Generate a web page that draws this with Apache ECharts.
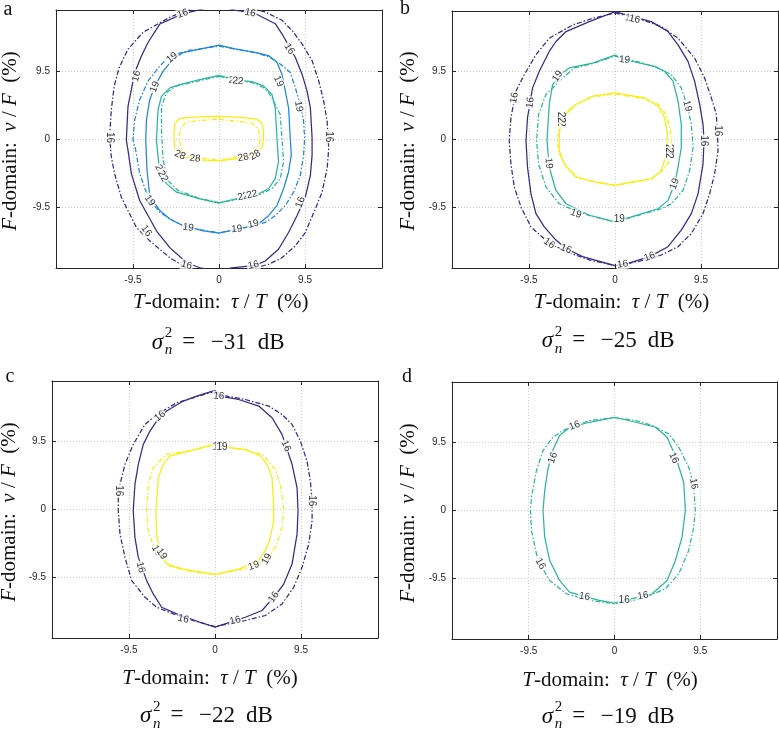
<!DOCTYPE html>
<html><head><meta charset="utf-8">
<script src="https://cdn.jsdelivr.net/npm/echarts@6/dist/echarts.min.js"></script>
<style>html,body{margin:0;padding:0;background:#fff}#c{width:779px;height:732px}</style>
</head><body><div id="c"></div>
<script>
// ---------- tick labels / captions ----------
const tickValues = [-9.5, 0, 9.5];
const noiseLevels = ['\u221231', '\u221225', '\u221222', '\u221219'];
const panelLetters = ['a', 'b', 'c', 'd'];

// ---------- panel a (sigma^2 = -31 dB) : contour levels 16,19,22,28 ----------
const aS16 = [[0,18.6],[1.77,17.97],[3.99,17.52],[6.21,16.09],[6.95,14.68],[8.42,11.4],[9.17,9.05],[9.72,6.71],[10.09,4.36],[10.28,0.14],[10.28,-2.25],[10.09,-5.07],[9.53,-8.12],[8.61,-10.7],[7.68,-13.05],[6.57,-15.39],[5.1,-17.03],[3.99,-17.64],[1.41,-17.97],[0,-18.4],[-2.11,-17.97],[-3.58,-17.27],[-5.43,-15.16],[-6.91,-12.81],[-8.76,-8.58],[-9.68,-4.83],[-10.05,-1.55],[-10.23,-0.14],[-10.05,4.55],[-9.68,6.9],[-9.31,9.25],[-8.57,11.58],[-7.84,13.47],[-6.54,16.04],[-4.02,17.45],[-1.74,18.16],[0,18.6]];
const aD16 = [[0,19.0],[3.44,18.3],[5.1,17.73],[6.95,16.57],[8.06,15.16],[9.17,13.27],[10.28,10.94],[11.01,8.12],[11.56,5.31],[11.94,2.49],[12.12,-1.31],[11.94,-4.12],[11.38,-7.42],[10.64,-9.75],[9.53,-13.05],[8.42,-14.92],[6.95,-16.57],[5.47,-17.49],[3.99,-17.97],[2.33,-18.7],[0,-19.0],[-2.1,-18.7],[-3.58,-17.97],[-5.43,-16.57],[-7.65,-14.21],[-9.12,-12.34],[-10.79,-8.12],[-11.53,-4.83],[-11.89,-2.49],[-12.08,0.32],[-11.89,4.08],[-11.58,7.36],[-11.03,9.95],[-10.05,12.53],[-8.39,14.88],[-5.43,16.99],[-2.66,18.44],[0,19.0]];
const aS19 = [[0,13.09],[1.77,12.57],[3.99,12.1],[5.47,11.64],[6.4,10.7],[6.95,9.05],[7.32,6.71],[7.68,4.36],[7.87,0.14],[7.98,-2.25],[7.68,-4.6],[7.13,-6.94],[6.4,-9.29],[5.47,-10.7],[4.36,-11.86],[2.52,-12.48],[0,-13.13],[-1.74,-12.81],[-3.96,-12.1],[-5.43,-11.16],[-6.54,-9.99],[-7.65,-7.88],[-7.95,-4.36],[-8.09,-0.14],[-8.01,2.67],[-7.65,5.49],[-7.09,7.36],[-6.17,9.47],[-5.07,11.12],[-3.96,12.06],[-2.11,12.53],[0,13.09]];
const aD19 = [[0,12.95],[3.99,12.03],[5.47,11.5],[6.76,10.46],[7.87,9.29],[8.42,7.18],[8.98,4.83],[9.34,2.49],[9.46,0.14],[9.34,-2.25],[8.98,-5.07],[8.24,-7.42],[7.32,-9.29],[6.21,-10.7],[5.1,-11.64],[3.44,-12.24],[0,-13.09],[-3.58,-12.34],[-5.07,-11.4],[-6.54,-10.23],[-7.84,-8.12],[-8.76,-4.83],[-9.2,-1.55],[-9.5,-0.14],[-9.31,2.67],[-8.76,5.49],[-7.84,8.06],[-6.54,10.18],[-5.43,11.58],[-3.21,12.39],[0,12.95]];
const aS22 = [[0,8.87],[1.96,8.23],[3.62,8.02],[4.91,7.42],[5.84,6.23],[6.21,4.36],[6.4,0.14],[6.57,-3.19],[6.21,-5.53],[5.47,-6.94],[4.36,-7.64],[3.25,-8.02],[1.03,-8.59],[0,-8.94],[-2.11,-8.35],[-4.69,-7.42],[-5.8,-6.23],[-6.54,-4.36],[-6.73,-2.49],[-6.91,-0.14],[-6.73,4.08],[-6.35,5.95],[-5.43,7.14],[-4.32,7.6],[-2.11,8.3],[0,8.87]];
const aD22 = [[0,8.73],[3.62,7.88],[4.91,7.18],[5.47,6.47],[6.02,5.31],[6.76,3.42],[6.95,0.14],[7.13,-3.19],[6.76,-5.53],[5.84,-6.94],[4.36,-7.81],[1.03,-8.66],[0,-8.87],[-2.11,-8.3],[-4.55,-7.18],[-5.65,-5.77],[-6.17,-2.96],[-6.35,1.27],[-6.35,4.55],[-5.8,6.43],[-4.88,7.32],[-2.11,8.16],[0,8.73]];
const aS28 = [[0,3.14],[2.33,3.03],[4.18,2.77],[4.73,2.25],[4.91,1.27],[4.91,-0.14],[4.77,-1.13],[3.99,-2.01],[2.88,-2.6],[0,-3.05],[-2.11,-2.91],[-3.77,-2.53],[-4.55,-2.04],[-4.88,-1.13],[-4.99,0.56],[-4.88,2.11],[-4.32,2.89],[-2.11,3.1],[0,3.14]];
const aD28 = [[0,2.74],[3.62,2.25],[4.36,1.31],[4.55,0.14],[4.43,-0.99],[3.44,-2.11],[0,-2.96],[-3.21,-2.53],[-4.1,-1.55],[-4.43,0.14],[-4.21,1.55],[-3.66,2.32],[-2.11,2.6],[0,2.74]];
const aLabels = [[-4.02,17.5,'16',18],[3.44,17.6,'16',-12],[7.76,12.57,'16',-58],[-12.08,0.2,'16',-90],[-9.12,8.77,'16',75],[12.12,0.32,'16',-90],[8.98,-8.82,'16',70],[-8.01,-12.81,'16',-55],[-3.58,-17.6,'16',-15],[3.8,-17.6,'16',12],
  [-5.18,11.36,'19',40],[-7.09,7.28,'19',70],[6.57,8.06,'19',-65],[8.79,4.55,'19',-80],[-7.65,-8.58,'19',-55],[-3.4,-12.34,'19',-8],[1.96,-12.57,'19',5],[3.8,-11.86,'19',15],
  [1.7,8.15,'22',-5],[2.1,8.1,'22',-5],[2.66,-8.02,'22',15],[3.66,-7.74,'22',15],[-6.54,-4.36,'22',-65],[-6.2,-5.2,'22',-60],
  [-4.32,-2.25,'28',-25],[-2.66,-2.72,'28',-5],[2.69,-2.58,'28',10],[3.99,-2.25,'28',30]];

// ---------- panel b (sigma^2 = -25 dB) : levels 16,19,22 ----------
const bS16 = [[0,17.9],[1.8,17.25],[4.01,16.51],[5.85,15.12],[6.96,13.26],[8.06,10.95],[8.79,8.17],[9.35,4.91],[9.72,2.13],[9.83,-0.18],[9.72,-3.44],[9.17,-7.61],[8.43,-10.39],[7.32,-12.7],[5.85,-15.02],[3.82,-16.41],[1.44,-17.35],[0,-17.67],[-3.58,-16.41],[-5.41,-15.26],[-6.52,-14.09],[-7.81,-12.24],[-8.73,-10.39],[-9.28,-7.61],[-9.66,-3.89],[-9.83,-0.18],[-9.66,3.06],[-9.1,7.23],[-8.36,9.56],[-7.26,12.34],[-6.52,13.73],[-5.41,15.12],[-2.84,16.51],[0,17.9]];
const bD16 = [[0,17.74],[2.54,16.97],[5.11,15.82],[6.96,14.19],[8.79,11.41],[9.9,8.62],[10.64,5.84],[11.19,3.52],[11.3,1.21],[11.38,-1.57],[11.0,-4.83],[10.45,-7.61],[9.72,-10.39],[8.43,-13.17],[6.96,-15.02],[5.11,-16.18],[2.54,-17.11],[0,-17.67],[-2.84,-16.87],[-5.0,-15.9],[-7.26,-14.56],[-9.28,-12.24],[-10.38,-9.46],[-11.12,-6.68],[-11.49,-3.44],[-11.68,-0.18],[-11.49,3.06],[-10.94,6.77],[-10.02,9.08],[-8.73,11.87],[-7.26,14.19],[-4.68,16.04],[-2.47,16.97],[0,17.74]];
const bS19 = [[0,11.82],[1.06,11.17],[4.37,10.25],[5.48,9.56],[6.41,8.17],[6.96,5.38],[7.32,2.13],[7.32,-1.11],[6.96,-3.89],[6.58,-6.22],[5.85,-8.53],[4.75,-9.7],[1.8,-10.85],[0,-11.55],[-2.84,-10.61],[-5.41,-9.0],[-6.52,-7.14],[-7.26,-3.89],[-7.51,-0.18],[-7.26,4.91],[-6.89,7.69],[-5.79,9.32],[-5.05,10.02],[-2.47,10.71],[0,11.82]];
const bD19 = [[0,11.68],[2.68,10.85],[4.75,10.02],[6.22,9.08],[7.32,7.23],[7.99,4.69],[8.43,2.13],[8.62,-1.11],[8.24,-4.35],[7.51,-7.14],[6.22,-9.0],[5.11,-9.7],[1.8,-10.92],[0,-11.55],[-2.84,-10.64],[-4.31,-10.02],[-6.15,-9.0],[-7.62,-6.68],[-8.44,-3.44],[-8.66,-0.18],[-8.44,3.52],[-7.62,6.3],[-5.97,8.39],[-4.5,10.02],[-2.47,10.64],[0,11.68]];
const bS22 = [[0,6.54],[3.27,5.84],[4.75,4.69],[5.48,3.06],[5.78,0.74],[5.67,-2.04],[5.11,-4.35],[4.01,-5.52],[1.8,-5.98],[0,-6.44],[-2.1,-5.98],[-4.31,-5.29],[-5.6,-3.44],[-6.15,-1.57],[-6.15,0.74],[-5.97,2.82],[-5.24,3.76],[-4.31,4.91],[-2.47,6.08],[0,6.54]];
const bD22 = [[0,6.4],[3.27,5.7],[4.75,4.91],[5.67,3.52],[6.14,1.21],[6.22,-1.11],[6.03,-2.96],[5.23,-4.31],[4.01,-5.56],[0,-6.4],[-2.1,-5.98],[-4.17,-5.29],[-5.49,-3.62],[-6.26,-1.67],[-6.34,-0.18],[-6.15,2.09],[-5.6,3.76],[-4.17,5.01],[-2.47,5.98],[0,6.4]];
const bLabels = [[1.75,16.95,'16',-12],[2.15,16.85,'16',-12],[-11.12,5.84,'16',80],[-9.36,5.15,'16',82],[-7.26,-14.56,'16',-35],[-5.41,-15.34,'16',-22],[0.84,-17.48,'16',8],[3.82,-16.41,'16',20],[9.83,-0.18,'16',-90],[11.3,1.21,'16',-90],
  [1.06,11.17,'19',-5],[-6.34,8.86,'19',55],[-7.33,-3.34,'19',-85],[-4.31,-10.39,'19',-20],[0.47,-11.22,'19',0],[7.99,4.69,'19',-75],[6.58,-6.22,'19',70],
  [-5.97,2.6,'22',-90],[-5.97,3.1,'22',-90],[5.92,-1.4,'22',-90],[5.92,-1.9,'22',-90]];

// ---------- panel c (sigma^2 = -22 dB) : levels 16,19 ----------
const cS16 = [[0,16.69],[0.41,15.88],[2.62,15.41],[4.83,14.49],[6.3,12.85],[7.4,10.52],[8.51,6.33],[9.06,3.07],[9.17,-0.18],[9.06,-3.45],[8.51,-7.64],[7.59,-10.44],[6.48,-12.3],[5.19,-14.15],[3.35,-15.09],[0,-16.48],[-1.66,-15.79],[-4.23,-14.63],[-5.89,-13.69],[-6.82,-11.83],[-7.55,-9.96],[-8.47,-6.71],[-8.84,-3.91],[-9.03,-0.18],[-8.84,3.53],[-8.47,6.33],[-7.92,9.12],[-7.18,10.99],[-6.44,12.39],[-5.34,13.79],[-3.5,15.19],[-2.02,15.88],[0,16.69]];
const cD16 = [[0,16.55],[1.1,15.93],[3.35,15.41],[5.93,14.49],[7.4,13.31],[8.51,11.92],[9.42,9.6],[10.16,6.8],[10.53,4.01],[10.72,1.22],[10.72,-1.58],[10.35,-4.85],[9.61,-8.1],[8.69,-10.9],[7.4,-13.23],[5.56,-14.85],[3.35,-15.55],[0,-16.41],[-2.4,-15.55],[-4.61,-14.63],[-6.44,-13.69],[-7.73,-12.29],[-9.2,-9.96],[-9.94,-6.71],[-10.49,-3.45],[-10.68,-0.18],[-10.68,2.61],[-10.49,3.53],[-9.94,6.33],[-9.03,9.12],[-7.73,11.92],[-6.44,13.31],[-4.23,14.95],[-2.4,15.65],[0,16.55]];
const cS19 = [[0,9.15],[0.77,8.76],[3.35,8.42],[5.0,7.5],[5.74,6.33],[6.3,4.47],[6.48,0.74],[6.48,-1.58],[6.11,-3.91],[5.56,-5.77],[4.75,-7.26],[2.62,-8.34],[0,-9.08],[-1.29,-8.8],[-3.5,-8.34],[-5.34,-7.64],[-6.08,-6.01],[-6.44,-3.45],[-6.52,-0.18],[-6.26,4.47],[-5.71,6.33],[-4.97,7.5],[-2.76,8.2],[0,9.15]];
const cD19 = [[0,9.08],[3.35,8.31],[5.19,7.68],[5.74,7.03],[6.66,5.63],[7.21,3.53],[7.59,0.28],[7.4,-2.51],[6.85,-4.85],[5.85,-6.94],[4.42,-7.96],[2.62,-8.45],[0,-9.15],[-2.76,-8.66],[-4.97,-7.96],[-6.63,-5.77],[-7.37,-2.98],[-7.55,-0.18],[-7.37,3.53],[-6.82,5.87],[-5.34,7.73],[-2.76,8.24],[0,9.08]];
const cLabels = [[0.41,15.88,'16',-5],[-6.08,13.09,'16',40],[-10.68,2.61,'16',-90],[-8.21,-8.1,'16',-75],[-3.5,-15.33,'16',-12],[7.84,8.9,'16',-65],[10.72,1.22,'16',-90],[6.48,-12.29,'16',55],[2.24,-15.55,'16',15],
  [0.33,8.76,'19',0],[0.77,8.69,'19',0],[-6.44,-5.77,'19',-60],[-5.89,-6.24,'19',-55],[4.28,-7.87,'19',20],[5.74,-6.94,'19',60]];

// ---------- panel d (sigma^2 = -19 dB) : level 16 ----------
const dS16 = [[0,13.06],[2.35,12.36],[4.55,11.66],[5.83,10.26],[6.57,8.12],[7.12,6.16],[7.67,3.92],[7.85,0],[7.48,-3.74],[6.75,-7.0],[5.83,-9.8],[4.18,-11.66],[3.08,-12.04],[1.07,-12.6],[0,-12.98],[-1.68,-12.6],[-3.33,-12.04],[-4.98,-11.44],[-6.08,-9.8],[-7.18,-7.0],[-7.73,-3.74],[-7.92,0],[-7.73,2.8],[-7.4,5.6],[-6.85,8.4],[-6.08,10.5],[-4.98,11.62],[-2.81,12.36],[0,13.06]];
const dD16 = [[0,13.02],[2.35,12.6],[4.18,11.9],[6.02,10.74],[7.12,8.86],[8.22,6.06],[8.77,3.5],[8.95,0],[8.77,-2.34],[8.22,-5.6],[7.12,-8.86],[5.65,-10.96],[3.08,-12.36],[0,-13.06],[-2.78,-12.6],[-5.35,-11.66],[-7.18,-9.8],[-8.28,-7.46],[-8.65,-6.06],[-9.2,-2.8],[-9.31,0],[-9.2,1.86],[-8.65,5.6],[-7.92,8.4],[-6.82,10.26],[-5.72,11.2],[-2.78,12.6],[0,13.02]];
const dLabels = [[-4.43,11.9,'16',20],[-6.82,7.38,'16',70],[-8.21,-7.46,'16',-60],[-3.33,-12.04,'16',-10],[1.07,-12.6,'16',0],[3.16,-11.94,'16',10],[6.57,7.38,'16',-65],[8.77,3.74,'16',-80]];

// ---------- styling / layout ----------
const COL = {dark:'#352a87', blue:'#1f86d8', teal:'#2db59d', yellow:'#f7f00f'};
const AX = '#262626';
const SERIF = '"Liberation Serif", "Times New Roman", serif';
const SANS = '"Liberation Sans", Arial, sans-serif';

const panels = [
  {box:{left:56,top:10,width:326,height:258}, curves:[[aD16,'dark',1],[aS16,'dark',0],[aD19,'blue',1],[aS19,'blue',0],[aD22,'teal',1],[aS22,'teal',0],[aD28,'yellow',1],[aS28,'yellow',0]], labels:aLabels, xt:[220.8,302], yt:[10,141], cap:[151.7,342.5], let:[8,10]},
  {box:{left:452,top:11,width:326,height:257}, curves:[[bD16,'dark',1],[bS16,'dark',0],[bD19,'teal',1],[bS19,'teal',0],[bD22,'yellow',1],[bS22,'yellow',0]], labels:bLabels, xt:[621.6,302], yt:[408,141], cap:[541.7,341], let:[405,9]},
  {box:{left:52,top:381,width:326,height:257}, curves:[[cD16,'dark',1],[cS16,'dark',0],[cD19,'yellow',1],[cS19,'yellow',0]], labels:cLabels, xt:[210,678], yt:[9,512], cap:[140,716], let:[10,377]},
  {box:{left:452,top:382,width:325,height:257}, curves:[[dD16,'teal',1],[dS16,'teal',0]], labels:dLabels, xt:[610,680], yt:[408,513], cap:[541.7,716.5], let:[407,377]}
];

const grid = [], xAxis = [], yAxis = [], series = [], graphic = [];
panels.forEach((p, i) => {
  grid.push({left:p.box.left, top:p.box.top, width:p.box.width, height:p.box.height, show:false, containLabel:false});
  const common = () => ({gridIndex:i, type:'value', min:-18, max:18,
    axisLine:{show:true, onZero:false, lineStyle:{color:AX, width:1}},
    axisTick:{show:true, inside:true, length:4, customValues:tickValues, lineStyle:{color:AX}}});
  const lab = {customValues:tickValues, color:AX, fontSize:10, fontFamily:SANS, margin:7};
  const split = {show:true, lineStyle:{color:'#cccccc', type:[1,2], width:1}};
  xAxis.push(Object.assign(common(), {position:'bottom', axisLabel:lab, splitLine:split}));
  xAxis.push(Object.assign(common(), {position:'top', axisLabel:{show:false}, splitLine:{show:false}}));
  yAxis.push(Object.assign(common(), {position:'left', axisLabel:Object.assign({}, lab, {margin:6}), splitLine:split}));
  yAxis.push(Object.assign(common(), {position:'right', axisLabel:{show:false}, splitLine:{show:false}}));

  p.curves.forEach(([data, col, dash]) => series.push({
    type:'line', xAxisIndex:2*i, yAxisIndex:2*i, data:data, symbol:'none', showSymbol:false,
    clip:true, silent:true, animation:false, z:2, smooth:false,
    lineStyle:{color:COL[col], width:1.25, type: dash ? [5,2,1.5,2] : 'solid'}
  }));
  series.push({
    type:'scatter', xAxisIndex:2*i, yAxisIndex:2*i, symbolSize:0, silent:true, animation:false, z:5,
    data: p.labels.map(l => ({value:[l[0], l[1]], label:{formatter:l[2], rotate:l[3]}})),
    label:{show:true, position:'inside', color:'#000', fontSize:10, fontFamily:SANS,
           backgroundColor:'#fff', padding:[0,1,0,1], lineHeight:10}
  });

  // axis titles
  const richI = {i:{fontStyle:'italic', fontFamily:SERIF, fontSize:21, fill:'#111', color:'#111'}};
  graphic.push({type:'text', x:p.xt[0], y:p.xt[1], silent:true,
    style:{text:'{i|T}-domain:  {i|\u03c4} / {i|T}  (%)', font:'21px ' + SERIF, fill:'#111', textFill:'#111',
      align:'center', verticalAlign:'middle', textAlign:'center', textVerticalAlign:'middle', rich:richI}});
  graphic.push({type:'text', x:p.yt[0], y:p.yt[1], rotation:Math.PI/2, silent:true,
    style:{text:'{i|F}-domain:  {i|\u03bd} / {i|F}  (%)', font:'21px ' + SERIF, fill:'#111', textFill:'#111',
      align:'center', verticalAlign:'middle', textAlign:'center', textVerticalAlign:'middle', rich:richI}});
  // caption  sigma_n^2 = -xx dB
  const L = p.cap[0], Y = p.cap[1];
  const t = (txt, x, y, font, align) => graphic.push({type:'text', x:x, y:y, silent:true,
    style:{text:txt, font:font, fill:'#111', textFill:'#111', align:align||'left', textAlign:align||'left', verticalAlign:'middle', textVerticalAlign:'middle'}});
  t('\u03c3', L, Y, 'italic 23px ' + SERIF);
  t('2', L + 13, Y - 9, '15px ' + SERIF);
  t('n', L + 13, Y + 8, 'italic 15px ' + SERIF);
  t('=', L + 37, Y - 1, '23px ' + SERIF, 'center');
  t(noiseLevels[i], L + 59, Y, '23px ' + SERIF);
  t('dB', L + 106, Y, '23px ' + SERIF);
  // panel letter
  t(panelLetters[i], p.let[0], p.let[1], '20px ' + SERIF, 'center');
});

const chart = echarts.init(document.getElementById('c'), null, {renderer:'canvas'});
chart.setOption({backgroundColor:'#fff', animation:false, grid, xAxis, yAxis, series, graphic});
</script></body></html>
